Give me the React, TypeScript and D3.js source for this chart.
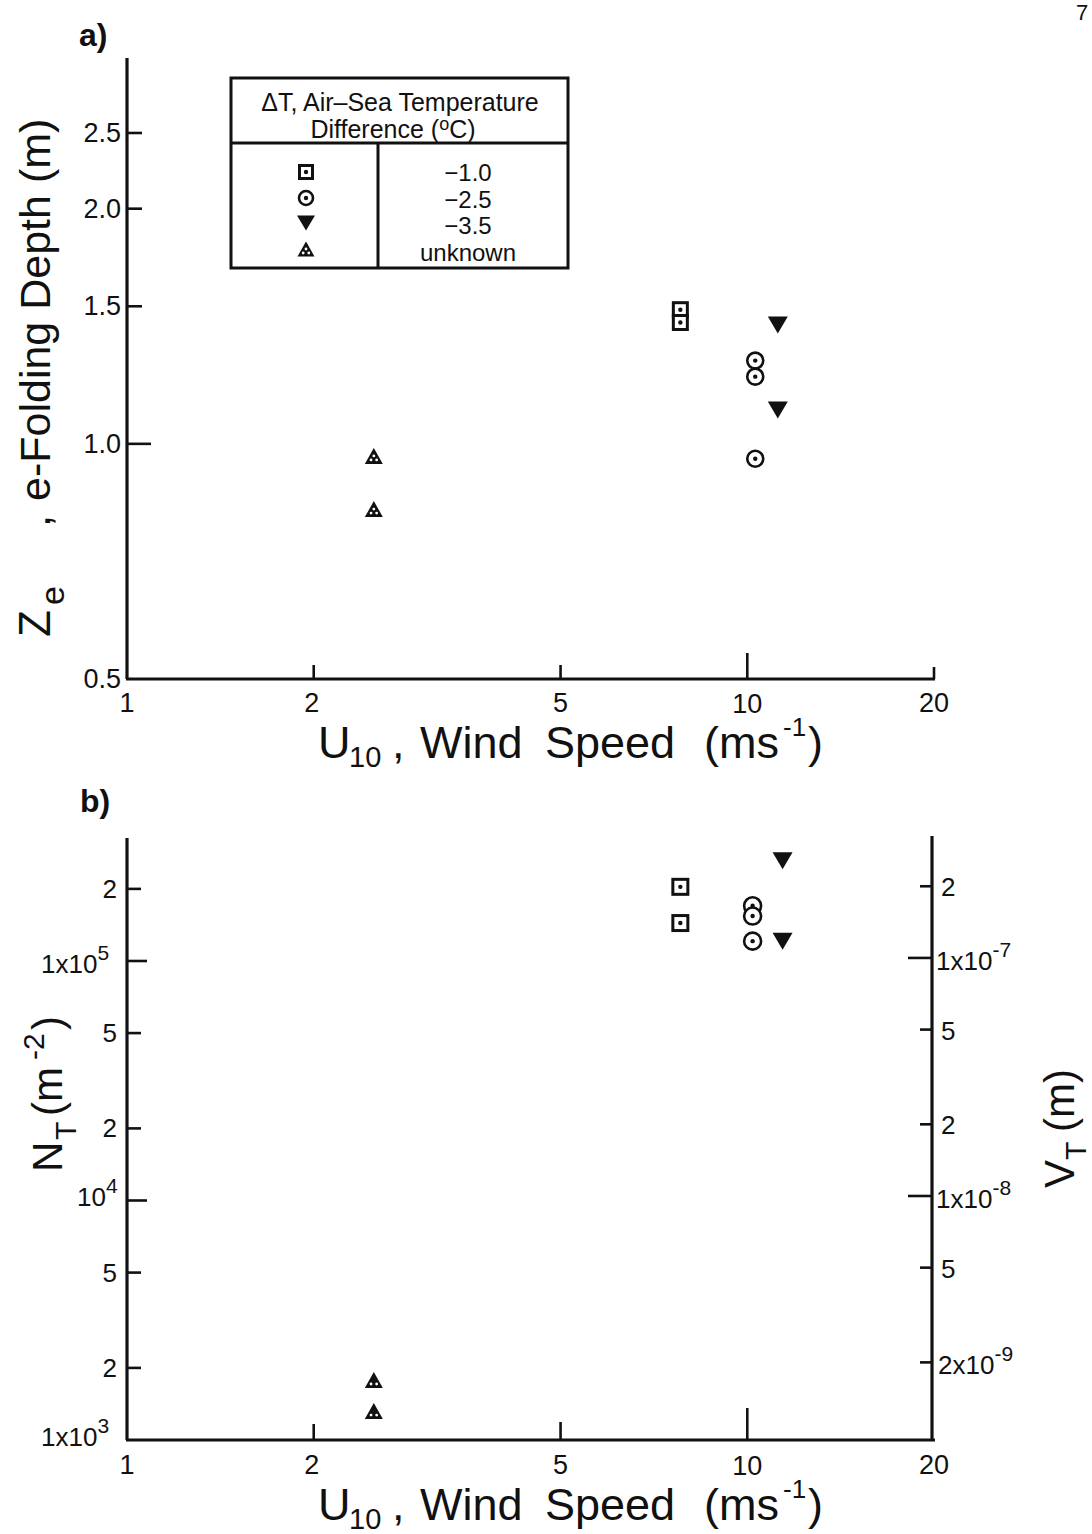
import React from "react";
import * as d3 from "d3";

// ---------- DATA ----------
const xTickValues = [1, 2, 5, 10, 20];
const xTickLabels = ["1", "2", "5", "10", "20"];

// Panel a: e-folding depth (m) vs U10 (m/s)
const aYTicks = [0.5, 1.0, 1.5, 2.0, 2.5];
const aYTickLabels = ["0.5", "1.0", "1.5", "2.0", "2.5"];
const aSquareU = [7.8, 7.8];
const aSquareZ = [1.485, 1.43];
const aCircleU = [10.3, 10.3, 10.3];
const aCircleZ = [1.278, 1.219, 0.957];
const aInvTriU = [11.2, 11.2];
const aInvTriZ = [1.42, 1.105];
const aTriU = [2.5, 2.5];
const aTriZ = [0.965, 0.825];

// Panel b: N_T (m^-2) and V_T (m) vs U10
const bLeftTicks = [1e3, 2e3, 5e3, 1e4, 2e4, 5e4, 1e5, 2e5];
const bRightTicks = [2e-9, 5e-9, 1e-8, 2e-8, 5e-8, 1e-7, 2e-7];
const bSquareU = [7.8, 7.8];
const bSquareN = [2.04e5, 1.44e5];
const bCircleU = [10.2, 10.2, 10.2];
const bCircleN = [1.7e5, 1.54e5, 1.21e5];
const bInvTriU = [11.4, 11.4];
const bInvTriN = [2.62e5, 1.21e5];
const bTriU = [2.5, 2.5];
const bTriN = [1.78e3, 1.32e3];

const legendLabels = ["\u22121.0", "\u22122.5", "\u22123.5", "unknown"];

// ---------- LAYOUT ----------
const FONT = "'Liberation Sans', Arial, Helvetica, sans-serif";
const X0 = 127;
const X1 = 934;

const xScale = d3.scaleLog().domain([1, 20]).range([X0, X1]);
const yA = d3.scaleLog().domain([0.5, 3.1]).range([679, 60]);
const yB = d3.scaleLog().domain([1e3, 3.2e5]).range([1440, 840]);
const yBR = d3.scaleLog().domain([9.44e-10, 3.19e-7]).range([1440, 838]);

const INK = "#111";

function Square({ x, y, s = 14 }: { x: number; y: number; s?: number }) {
  return (
    <g>
      <rect x={x - s / 2} y={y - s / 2} width={s} height={s} fill="white" stroke={INK} strokeWidth={3} />
      <circle cx={x} cy={y} r={2.2} fill={INK} />
    </g>
  );
}
function Circ({ x, y, r = 8 }: { x: number; y: number; r?: number }) {
  return (
    <g>
      <circle cx={x} cy={y} r={r} fill="white" stroke={INK} strokeWidth={2.6} />
      <circle cx={x} cy={y} r={2.2} fill={INK} />
    </g>
  );
}
function InvTri({ x, y, w = 20, h = 17 }: { x: number; y: number; w?: number; h?: number }) {
  return <path d={`M${x - w / 2},${y - h / 2}L${x + w / 2},${y - h / 2}L${x},${y + h / 2}Z`} fill={INK} />;
}
function Tri({ x, y, w = 18, h = 16, dots = 3 }: { x: number; y: number; w?: number; h?: number; dots?: number }) {
  return (
    <g>
      <path d={`M${x},${y - h / 2}L${x + w / 2},${y + h / 2}L${x - w / 2},${y + h / 2}Z`} fill={INK} />
      {dots === 3 && <circle cx={x} cy={y} r={1.4} fill="white" />}
      <circle cx={x - 2.8} cy={y + 4} r={1.4} fill="white" />
      <circle cx={x + 2.8} cy={y + 4} r={1.4} fill="white" />
    </g>
  );
}

function XAxis({ y, tickLen, labelY }: { y: number; tickLen: number[]; labelY: number }) {
  return (
    <g>
      <line x1={X0 - 1} x2={X1 + 1} y1={y} y2={y} stroke={INK} strokeWidth={3.2} />
      {xTickValues.map((v, i) =>
        i === 0 ? null : (
          <line key={v} x1={xScale(v)} x2={xScale(v)} y1={y} y2={y - tickLen[i]} stroke={INK} strokeWidth={2.6} />
        )
      )}
      {xTickValues.map((v, i) => (
        <text key={"l" + v} x={xScale(v) + (i === 1 ? -2 : 0)} y={labelY + (i === 3 ? 1 : 0)} textAnchor="middle" fontSize={27} fontFamily={FONT} fill={INK}>
          {xTickLabels[i]}
        </text>
      ))}
    </g>
  );
}

function XTitle({ y }: { y: number }) {
  const fs = 45;
  return (
    <g fontFamily={FONT} fill={INK} fontSize={fs}>
      <text x={318} y={y}>U</text>
      <text x={349} y={y + 9} fontSize={29}>10</text>
      <text x={392} y={y}>,</text>
      <text x={420} y={y}>Wind</text>
      <text x={545} y={y}>Speed</text>
      <text x={704} y={y}>(ms</text>
      <text x={783} y={y - 22} fontSize={26}>-1</text>
      <text x={808} y={y}>)</text>
    </g>
  );
}

function Pow({ x, y, base, exp, anchor = "start", fs = 26 }: { x: number; y: number; base: string; exp: string; anchor?: string; fs?: number }) {
  return (
    <text x={x} y={y} textAnchor={anchor} fontSize={fs} fontFamily={FONT} fill={INK}>
      {base}
      <tspan dy={-13} fontSize={21}>{exp}</tspan>
    </text>
  );
}

export default function App() {
  const yTickLenA = (v: number) => (v === 1.0 ? 24 : 15);
  return (
    <div style={{ position: "absolute", left: 0, top: 0 }}>
      <svg width={1092} height={1534} style={{ display: "block", background: "white" }}>
        <rect x={0} y={0} width={1092} height={1534} fill="white" />
        <text x={1076} y={20} fontSize={22} fontFamily={FONT} fill={INK}>7</text>

        {/* ============ PANEL A ============ */}
        <text x={79} y={46} fontSize={32} fontFamily={FONT} fontWeight="bold" fill={INK}>a)</text>
        <line x1={X0} x2={X0} y1={58} y2={yA(0.5)} stroke={INK} strokeWidth={3.2} />
        {aYTicks.map((v, i) => (
          <g key={v}>
            {i > 0 && <line x1={X0} x2={X0 + yTickLenA(v)} y1={yA(v)} y2={yA(v)} stroke={INK} strokeWidth={2.6} />}
            <text x={121} y={yA(v) + 9} textAnchor="end" fontSize={27} fontFamily={FONT} fill={INK}>
              {aYTickLabels[i]}
            </text>
          </g>
        ))}
        <XAxis y={yA(0.5)} tickLen={[0, 14, 14, 26, 12]} labelY={712} />
        <XTitle y={758} />

        {/* y title a */}
        <g transform="translate(50,637) rotate(-90)" fontFamily={FONT} fill={INK}>
          <text x={0} y={0} fontSize={44}>Z</text>
          <text x={32} y={14} fontSize={34}>e</text>
          <text x={110} y={0} fontSize={44}>,</text>
          <text x={136} y={0} fontSize={43}>e-Folding  Depth (m)</text>
        </g>

        {/* legend */}
        <g fontFamily={FONT} fill={INK}>
          <rect x={231} y={78} width={337} height={190} fill="white" stroke={INK} strokeWidth={3} />
          <line x1={231} x2={568} y1={143} y2={143} stroke={INK} strokeWidth={3} />
          <line x1={378} x2={378} y1={143} y2={268} stroke={INK} strokeWidth={3} />
          <text x={400} y={111} textAnchor="middle" fontSize={25}>{"\u0394T, Air\u2013Sea Temperature"}</text>
          <text x={393} y={138} textAnchor="middle" fontSize={25}>
            {"Difference ("}
            <tspan dy={-8} fontSize={18}>o</tspan>
            <tspan dy={8}>C)</tspan>
          </text>
          <Square x={306} y={172} s={13} />
          <Circ x={306} y={198} r={7} />
          <InvTri x={306} y={223} w={18} h={15} />
          <Tri x={306} y={249} w={17} h={15} />
          {legendLabels.map((t, i) => (
            <text key={t} x={468} y={181 + i * 26.5} textAnchor="middle" fontSize={24}>{t}</text>
          ))}
        </g>

        {/* data a */}
        {aTriU.map((u, i) => <Tri key={"at" + i} x={xScale(u)} y={yA(aTriZ[i])} />)}
        {aSquareU.map((u, i) => <Square key={"as" + i} x={xScale(u)} y={yA(aSquareZ[i])} />)}
        {aCircleU.map((u, i) => <Circ key={"ac" + i} x={xScale(u)} y={yA(aCircleZ[i])} />)}
        {aInvTriU.map((u, i) => <InvTri key={"ai" + i} x={xScale(u)} y={yA(aInvTriZ[i])} />)}

        {/* ============ PANEL B ============ */}
        <text x={80} y={812} fontSize={32} fontFamily={FONT} fontWeight="bold" fill={INK}>b)</text>
        <line x1={X0} x2={X0} y1={838} y2={1440} stroke={INK} strokeWidth={3.2} />
        <line x1={X1 - 2} x2={X1 - 2} y1={836} y2={1440} stroke={INK} strokeWidth={3.2} />
        {bLeftTicks.map((v) =>
          v === 1e3 ? null : (
            <line key={v} x1={X0} x2={X0 + (v === 1e4 || v === 1e5 ? 20 : 14)} y1={yB(v)} y2={yB(v)} stroke={INK} strokeWidth={2.6} />
          )
        )}
        {bRightTicks.map((v) => (
          <line key={v} x1={X1 - 2} x2={X1 - 2 - (v === 1e-8 || v === 1e-7 ? 24 : 12)} y1={yBR(v)} y2={yBR(v)} stroke={INK} strokeWidth={2.6} />
        ))}
        <XAxis y={1440} tickLen={[0, 16, 18, 32, 0]} labelY={1474} />
        <XTitle y={1520} />

        {/* left tick labels b */}
        <g fontFamily={FONT} fill={INK} fontSize={26}>
          {[2e5, 5e4, 2e4, 5e3, 2e3].map((v) => (
            <text key={v} x={117} y={yB(v) + 9} textAnchor="end">{String(v).charAt(0)}</text>
          ))}
        </g>
        <Pow x={41} y={yB(1e5) + 12} base="1x10" exp="5" />
        <Pow x={77} y={yB(1e4) + 6} base="10" exp="4" />
        <Pow x={41} y={yB(1e3) + 6} base="1x10" exp="3" />

        {/* right tick labels b */}
        <g fontFamily={FONT} fill={INK} fontSize={26}>
          {[2e-7, 5e-8, 2e-8, 5e-9].map((v) => (
            <text key={v} x={941} y={yBR(v) + 10}>{v.toExponential().charAt(0)}</text>
          ))}
        </g>
        <Pow x={936} y={yBR(1e-7) + 12} base="1x10" exp="-7" />
        <Pow x={936} y={yBR(1e-8) + 12} base="1x10" exp="-8" />
        <Pow x={938} y={yBR(2e-9) + 12} base="2x10" exp="-9" />

        {/* left y title b */}
        <g transform="translate(62,1172) rotate(-90)" fontFamily={FONT} fill={INK}>
          <text x={0} y={0} fontSize={42}>N</text>
          <text x={32} y={14} fontSize={30}>T</text>
          <text x={56} y={0} fontSize={42}>(m</text>
          <text x={112} y={-18} fontSize={30}>-2</text>
          <text x={142} y={0} fontSize={42}>)</text>
        </g>
        {/* right y title b */}
        <g transform="translate(1074,1188) rotate(-90)" fontFamily={FONT} fill={INK}>
          <text x={0} y={0} fontSize={42}>V</text>
          <text x={28} y={12} fontSize={30}>T</text>
          <text x={56} y={0} fontSize={42}>(m)</text>
        </g>

        {/* data b */}
        {bTriU.map((u, i) => <Tri key={"bt" + i} x={xScale(u)} y={yB(bTriN[i])} dots={2} />)}
        {bSquareU.map((u, i) => <Square key={"bs" + i} x={xScale(u)} y={yB(bSquareN[i])} s={15} />)}
        {bCircleU.map((u, i) => <Circ key={"bc" + i} x={xScale(u)} y={yB(bCircleN[i])} r={8.5} />)}
        {bInvTriU.map((u, i) => <InvTri key={"bi" + i} x={xScale(u)} y={yB(bInvTriN[i])} />)}
      </svg>
    </div>
  );
}
